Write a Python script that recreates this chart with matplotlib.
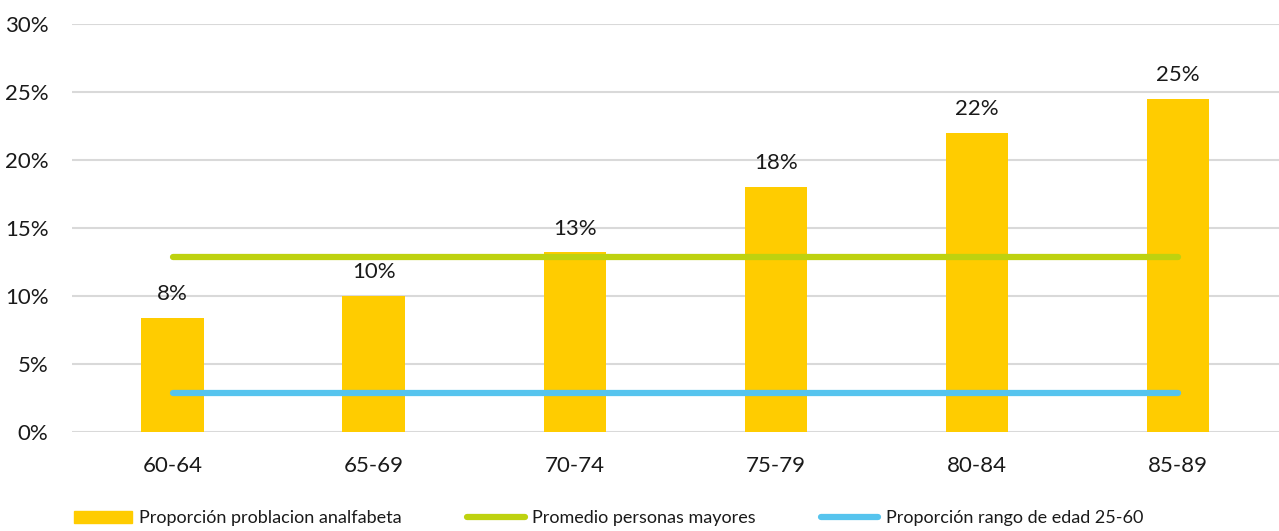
import matplotlib.pyplot as plt
import numpy as np
from matplotlib.patches import Patch
from matplotlib.lines import Line2D

plt.rcParams['font.family'] = ['Lato', 'DejaVu Sans']

# age groups and illiterate share (%)
age_groups = ['60-64', '65-69', '70-74', '75-79', '80-84', '85-89']
illiterate_pct = [8.4, 10.0, 13.2, 18.0, 22.0, 24.5]
bar_labels = ['8%', '10%', '13%', '18%', '22%', '25%']

# reference levels (%)
older_avg_pct = 12.9
range_25_60_pct = 2.9

yellow = '#FFCC00'
green = '#BED20F'
blue = '#56C4EE'

fig = plt.figure(figsize=(12.79, 5.31), dpi=100)
ax = fig.add_axes([72 / 1279, 99 / 531, 1206.5 / 1279, 408 / 531])

x = np.arange(len(age_groups))
ax.bar(x, illiterate_pct, width=0.31, color=yellow, zorder=2)
ax.plot(x, [older_avg_pct] * len(x), color=green, lw=4.5,
        solid_capstyle='round', zorder=3)
ax.plot(x, [range_25_60_pct] * len(x), color=blue, lw=4.5,
        solid_capstyle='round', zorder=3)

for xi, v, lab in zip(x, illiterate_pct, bar_labels):
    ax.annotate(lab, (xi, v), xytext=(0, 10), textcoords='offset points',
                ha='center', va='bottom', fontsize=16, color='#1a1a1a')

ax.set_xlim(-0.5, len(x) - 0.5)
ax.set_ylim(0, 30)
ax.set_yticks(np.arange(0, 31, 5))
ax.set_yticklabels([f'{t}%' for t in range(0, 31, 5)])
ax.set_xticks(x)
ax.set_xticklabels(age_groups)
ax.tick_params(axis='both', length=0, labelsize=16, labelcolor='#1a1a1a')
ax.tick_params(axis='x', pad=17)
ax.tick_params(axis='y', pad=17)
ax.yaxis.grid(True, color='#d9d9d9', lw=1.5, zorder=0)
ax.set_axisbelow(True)
for s in ax.spines.values():
    s.set_visible(False)

handles = [
    Patch(color=yellow),
    Line2D([], [], color=green, lw=4.5, solid_capstyle='round'),
    Line2D([], [], color=blue, lw=4.5, solid_capstyle='round'),
]
labels = ['Proporción problacion analfabeta', 'Promedio personas mayores',
          'Proporción rango de edad 25-60']
fig.legend(handles, labels, loc='lower left', bbox_to_anchor=(58 / 1279, -0.022),
           ncol=3, frameon=False, fontsize=13, handlelength=3.2,
           handleheight=0.7, handletextpad=0.4, columnspacing=3.6,
           labelcolor='#1a1a1a')

fig.savefig('out.png', dpi=100)
